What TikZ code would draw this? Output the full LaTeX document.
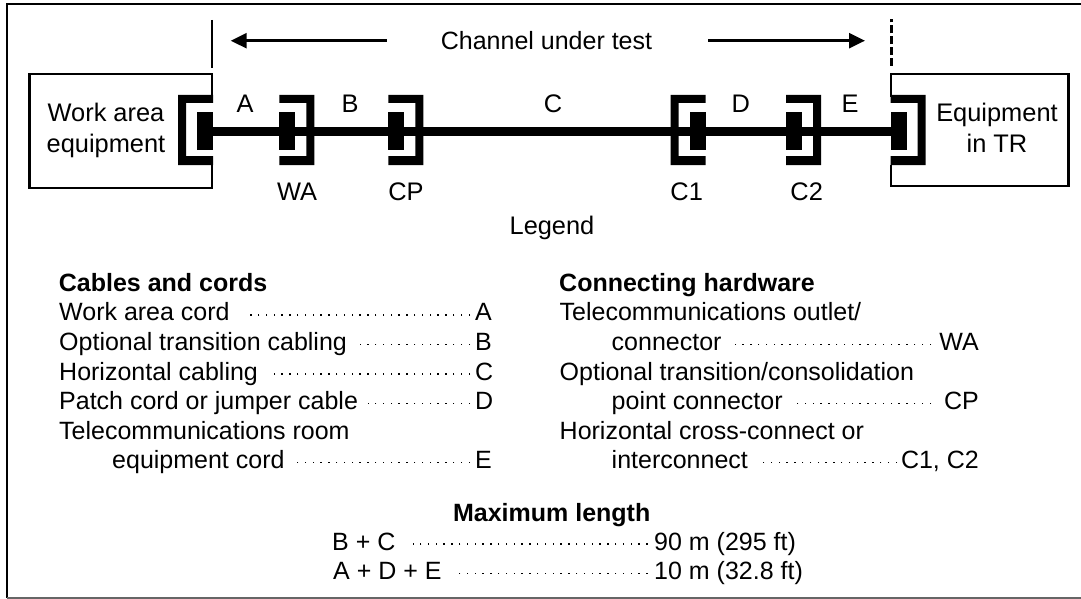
\documentclass[tikz,border=0pt]{standalone}
\usepackage{fontspec}
\setmainfont{Liberation Sans}
\usetikzlibrary{arrows.meta}
\tikzset{
 x=1pt,y=-1pt,
 lab/.style={inner sep=0pt,anchor=base,font=\fontsize{25}{29}\selectfont},
 dia/.style={lab,font=\fontsize{25.4}{29}\selectfont},
 labl/.style={lab,anchor=base west},
 labr/.style={lab,anchor=base east},
 bold/.style={labl,font=\fontsize{25}{29}\selectfont\bfseries},
 leader/.style={line width=1.4pt,dash pattern=on 1.4pt off 6.4pt},
 bound/.style={line width=2.1pt},
 cable/.style={line width=9.4pt},
 arr/.style={line width=2.7pt,-{Triangle[length=16pt,width=15pt]}},
}
\newcommand{\leftjack}[2]{%
 \fill[black] (#1,#2-36) -- (#1-35,#2-36) -- (#1-35,#2+34) -- (#1,#2+34) -- (#1,#2+25) -- (#1-27,#2+25) -- (#1-27,#2-28) -- (#1,#2-28) -- cycle;
 \fill[black] (#1-16,#2-18.5) rectangle (#1,#2+19);}
\newcommand{\rightjack}[2]{%
 \fill[black] (#1,#2-36) -- (#1+35,#2-36) -- (#1+35,#2+34) -- (#1,#2+34) -- (#1,#2+25) -- (#1+27,#2+25) -- (#1+27,#2-28) -- (#1,#2-28) -- cycle;
 \fill[black] (#1,#2-18.5) rectangle (#1+16,#2+19);}
\begin{document}
\begin{tikzpicture}
\useasboundingbox (0,0) rectangle (1081,599);
\draw[line width=2.4pt,draw=black] (1081,3.8) -- (7,3.8) -- (7,598);
\draw[line width=1.2pt,draw=black!60] (7,598) -- (1081,598);
% equipment boxes
\coordinate (wl1) at (212,97);
\coordinate (wl2) at (212,74);
\coordinate (wl3) at (29.5,74);
\coordinate (wl4) at (29.5,188);
\coordinate (wl5) at (212,188);
\coordinate (wl6) at (212,165);
\draw[bound,line join=miter] (wl1) -- (wl2) -- (wl3) -- (wl4) -- (wl5) -- (wl6);
\coordinate (wr1) at (891,97);
\coordinate (wr2) at (891,74);
\coordinate (wr3) at (1068.5,74);
\coordinate (wr4) at (1068.5,186);
\coordinate (wr5) at (891,186);
\coordinate (wr6) at (891,165);
\draw[bound,line join=miter] (wr1) -- (wr2) -- (wr3) -- (wr4) -- (wr5) -- (wr6);
% cables
\coordinate (ca) at (205,131.3);
\coordinate (cb) at (900,131.3);
\draw[cable] (ca) -- (cb);
% connectors
\leftjack{213}{131}
\rightjack{279.3}{131}
\rightjack{388.3}{131}
\leftjack{705.7}{131}
\rightjack{786}{131}
\rightjack{890.7}{131}
% channel limits
\coordinate (lim1) at (212,20);
\coordinate (lim2) at (212,68);
\draw[bound] (lim1) -- (lim2);
\coordinate (lim3) at (891.3,19.3);
\coordinate (lim4) at (891.3,66);
\draw[line width=2.6pt,dash pattern=on 8pt off 2.9pt] (lim4) -- (lim3);
% title + arrows
\node[lab] (title) at (546.5,50) {Channel under test};
\coordinate (al) at (230.7,40.7);
\coordinate (ar) at (865,40.7);
\coordinate (alb) at (386.7,40.7);
\coordinate (arb) at (708,40.7);
\draw[arr] (alb) -- (al);
\draw[arr] (arb) -- (ar);
% labels
\node[dia] (wa1) at (106,121.7) {Work area};
\node[dia] (wa2) at (106,153) {equipment};
\node[dia] (tr1) at (997,121.7) {Equipment};
\node[dia] (tr2) at (997,152.7) {in TR};
\node[dia] (lA) at (245,112.7) {A};
\node[dia] (lB) at (350,112.7) {B};
\node[dia] (lC) at (553,112.7) {C};
\node[dia] (lD) at (740.7,112.7) {D};
\node[dia] (lE) at (850,112.7) {E};
\node[dia] (lWA) at (297,200.7) {WA};
\node[dia] (lCP) at (406,200.7) {CP};
\node[dia] (lC1) at (686.7,200.7) {C1};
\node[dia] (lC2) at (806.7,200.7) {C2};
\node[dia] (legend) at (552,234) {Legend};
% cables and cords
\node[bold] (h1) at (58.7,291) {Cables and cords};
\node[labl] (a1) at (59,320.7) {Work area cord};
\node[labl] (a2) at (59,350.7) {Optional transition cabling};
\node[labl] (a3) at (59,380) {Horizontal cabling};
\node[labl] (a4) at (59,409.3) {Patch cord or jumper cable};
\node[labl] (a5) at (59,439) {Telecommunications room};
\node[labl] (a6) at (112,468.5) {equipment cord};
\node[labl] (ra) at (475,320.7) {A};
\node[labl] (rb) at (475,350.7) {B};
\node[labl] (rc) at (475,380) {C};
\node[labl] (rd) at (475,409.3) {D};
\node[labl] (re) at (475,468.5) {E};
\foreach \s/\y in {244/315,360/344.5,269/374,368/403.5,297/462.5}
  \draw[leader] (470,\y) -- (\s,\y);
% hardware
\node[bold] (h2) at (559,291) {Connecting hardware};
\node[labl] (b1) at (559.5,320.7) {Telecommunications outlet/};
\node[labl] (b2) at (611.5,350.7) {connector};
\node[labl] (b3) at (559.5,380) {Optional transition/consolidation};
\node[labl] (b4) at (611.5,409.3) {point connector};
\node[labl] (b5) at (559.5,439) {Horizontal cross-connect or};
\node[labl] (b6) at (611.5,468.5) {interconnect};
\node[labr] (rwa) at (979,350.7) {WA};
\node[labr] (rcp) at (979,409.3) {CP};
\node[labr] (rcc) at (979,468.5) {C1, C2};
\foreach \s/\e/\y in {730/931/344.5,795/931/403.5,761/897/462.5}
  \draw[leader] (\e,\y) -- (\s,\y);
% max
\node[lab,font=\fontsize{25}{29}\selectfont\bfseries] (h3) at (551.7,521.7) {Maximum length};
\node[labl] (m1) at (332,550.3) {B + C};
\node[labl] (m2) at (333,579.5) {A + D + E};
\node[labl] (m3) at (654,550.3) {90 m (295 ft)};
\node[labl] (m4) at (654,579.5) {10 m (32.8 ft)};
\foreach \s/\y in {413/544,455/573.3}
  \draw[leader] (647.5,\y) -- (\s,\y);
\end{tikzpicture}
\end{document}
